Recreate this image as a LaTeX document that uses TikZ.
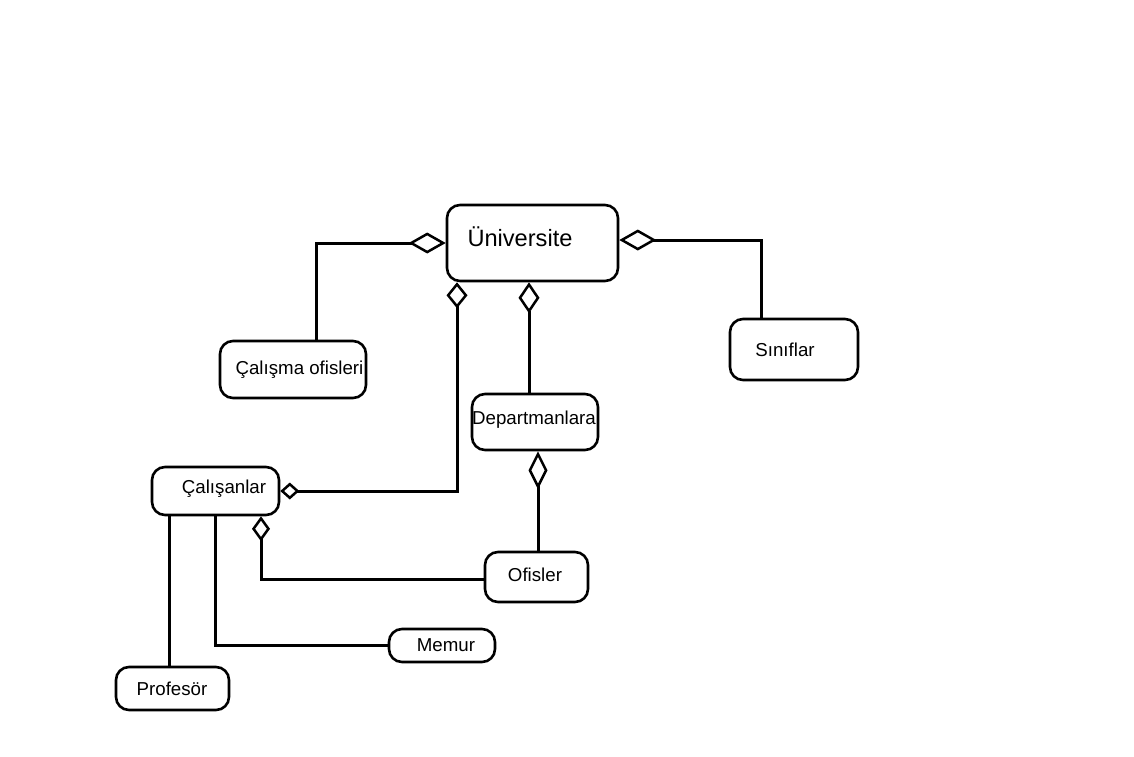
\documentclass[tikz,border=0pt]{standalone}
\usepackage{fontspec}
\setmainfont{Liberation Sans}
\usetikzlibrary{arrows.meta}
\begin{document}
\begin{tikzpicture}[x=1pt,y=-1pt,line width=3pt,
  box/.style={draw,rounded corners=13pt,inner sep=0pt,line width=2.6pt},
  txt/.style={font=\fontsize{18.7}{22}\selectfont},
  conn/.style={line width=3pt}]
\useasboundingbox (0,0) rectangle (1134,756);
% boxes
\node[box,minimum width=171pt,minimum height=76pt] (uni) at (532.5,243) {};
\node[font=\fontsize{23.6}{28}\selectfont] (unit) at (520,237) {Üniversite};
\node[box,minimum width=146pt,minimum height=57pt] (cal) at (293,369.5) {};
\node[txt] (calt) at (299.5,370) {Çalışma ofisleri};
\node[box,minimum width=128pt,minimum height=61pt] (sin) at (794,349.5) {};
\node[txt] (sint) at (785,350) {Sınıflar};
\node[box,minimum width=126pt,minimum height=56pt] (dep) at (535,422) {};
\node[txt] (dept) at (534,420) {Departmanlara};
\node[box,minimum width=103pt,minimum height=50pt] (ofis) at (536.5,577) {};
\node[txt] (ofist) at (535,575) {Ofisler};
\node[box,minimum width=127pt,minimum height=48pt] (caln) at (215.5,491) {};
\node[txt] (calnt) at (224,489) {Çalışanlar};
\node[box,minimum width=106pt,minimum height=33pt] (mem) at (442,645.5) {};
\node[txt] (memt) at (446,645) {Memur};
\node[box,minimum width=113pt,minimum height=43pt] (prof) at (172.5,688.5) {};
\node[txt] (proft) at (172,689) {Profesör};
% connectors
\draw[conn,-{Diamond[open,length=37pt,width=21pt,line width=2.5pt]}]
  ([xshift=23pt]cal.north) |- (uni.west);
\draw[conn,-{Diamond[open,length=37pt,width=21pt,line width=2.5pt]}]
  ([xshift=-33pt]sin.north) |- ([yshift=3pt]uni.east);
\draw[conn,{Diamond[open,length=19pt,width=17pt,line width=2.5pt]}-{Diamond[open,length=26pt,width=21pt,line width=2.5pt]}]
  (caln.east) -| ([xshift=-75.5pt]uni.south);
\draw[conn,-{Diamond[open,length=31pt,width=21pt,line width=2.5pt]}]
  ([xshift=-6pt]dep.north) -- ([xshift=-6pt]dep.north |- uni.south);
\draw[conn,-{Diamond[open,length=38pt,width=19pt,line width=2.5pt]}]
  ([xshift=1.5pt]ofis.north) -- ([xshift=1.5pt]ofis.north |- dep.south);
\draw[conn,-{Diamond[open,length=25pt,width=18pt,line width=2.5pt]}]
  ([yshift=-2pt]ofis.west) -| ([xshift=45.5pt]caln.south);
\draw[conn] ([xshift=-3.5pt]prof.north) -- ([xshift=-3.5pt]prof.north |- caln.south);
\draw[conn] (caln.south) |- (mem.west);
\end{tikzpicture}
\end{document}
